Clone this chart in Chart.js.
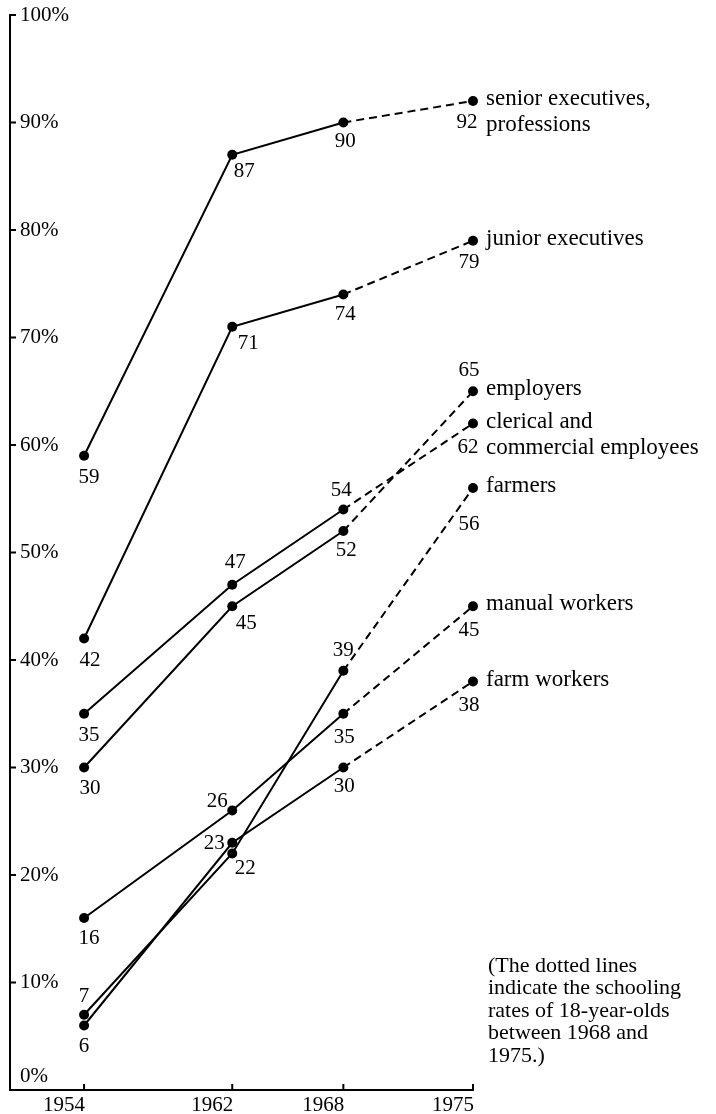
<!DOCTYPE html>
<html>
<head>
<meta charset="utf-8">
<script src="https://cdn.jsdelivr.net/npm/chart.js@4.4.0/dist/chart.umd.min.js"></script>
<style>
html, body { margin: 0; padding: 0; background: #fff; }
</style>
</head>
<body>
<canvas id="lienzo" width="716" height="1114"></canvas>
<script>
// valores
const years = [1954, 1962, 1968, 1975]
const yTicks = [0, 10, 20, 30, 40, 50, 60, 70, 80, 90, 100]
const seniorExec = [59, 87, 90, 92]
const juniorExec = [42, 71, 74, 79]
const employers = [30, 45, 52, 65]
const clerical = [35, 47, 54, 62]
const farmers = [7, 22, 39, 56]
const manualWorkers = [16, 26, 35, 45]
const farmWorkers = [6, 23, 30, 38]
const seriesNames = [
    ["senior executives,", "professions"],
    ["junior executives"],
    ["employers"],
    ["clerical and", "commercial employees"],
    ["farmers"],
    ["manual workers"],
    ["farm workers"]
]
const note = ["(The dotted lines", "indicate the schooling", "rates of 18-year-olds", "between 1968 and", "1975.)"]

// donde va cada numero respecto a su punto (dx, dy)
const labelOffsets = [
    [[5, 22], [12, 17], [2, 19], [-6, 21]],
    [[6, 22], [16, 17], [2, 20], [-4, 22]],
    [[6, 21], [14, 17], [3, 19], [-4, -21]],
    [[5, 22], [3, -22], [-2, -19], [-5, 24]],
    [[0, -18], [13, 15], [0, -20], [-4, 36]],
    [[5, 20], [-15, -9], [1, 24], [-4, 24]],
    [[0, 21], [-18, 1], [1, 19], [-4, 24]]
]

const serif = "'Liberation Serif', 'DejaVu Serif', serif"
const allSeries = [seniorExec, juniorExec, employers, clerical, farmers, manualWorkers, farmWorkers]

const datasets = allSeries.map((vals, i) => ({
    label: seriesNames[i].join(" "),
    data: years.map((yr, j) => ({ x: yr, y: vals[j] })),
    borderColor: "#000",
    borderWidth: 2,
    pointRadius: 5,
    pointHoverRadius: 5,
    pointBackgroundColor: "#000",
    pointBorderWidth: 0,
    tension: 0,
    clip: false,
    segment: {
        borderDash: c => c.p0.parsed.x >= 1968 ? [8, 5] : undefined
    }
}))

const decor = {
    id: "decor",
    afterDraw(chart) {
        const ctx = chart.ctx
        const xs = chart.scales.x
        const ys = chart.scales.y
        const area = chart.chartArea
        ctx.save()
        ctx.fillStyle = "#000"
        ctx.strokeStyle = "#000"
        ctx.lineWidth = 2

        // marcas de los ejes
        ctx.beginPath()
        for (let v of yTicks) {
            const py = ys.getPixelForValue(v)
            ctx.moveTo(area.left, py)
            ctx.lineTo(area.left + 6, py)
        }
        for (let yr of years) {
            const px = xs.getPixelForValue(yr)
            ctx.moveTo(px, area.bottom)
            ctx.lineTo(px, area.bottom - 6)
        }
        ctx.stroke()

        // etiquetas de los ejes
        ctx.font = "21px " + serif
        ctx.textAlign = "left"
        ctx.textBaseline = "middle"
        for (let v of yTicks) {
            let py = ys.getPixelForValue(v)
            if (v === 0) py -= 14
            ctx.fillText(v + "%", area.left + 10, py)
        }
        ctx.textAlign = "right"
        for (let yr of years) {
            ctx.fillText(String(yr), xs.getPixelForValue(yr) + 1, area.bottom + 15)
        }

        // numeros junto a los puntos
        ctx.font = "21px " + serif
        ctx.textAlign = "center"
        chart.data.datasets.forEach((ds, i) => {
            const meta = chart.getDatasetMeta(i)
            meta.data.forEach((pt, j) => {
                const off = labelOffsets[i][j]
                ctx.fillText(String(allSeries[i][j]), pt.x + off[0], pt.y + off[1])
            })
        })

        // nombres de las series
        ctx.font = "23px " + serif
        ctx.textAlign = "left"
        chart.data.datasets.forEach((ds, i) => {
            const meta = chart.getDatasetMeta(i)
            const last = meta.data[meta.data.length - 1]
            seriesNames[i].forEach((line, k) => {
                ctx.fillText(line, last.x + 13, last.y - 2 + k * 26)
            })
        })

        // nota
        ctx.font = "22px " + serif
        note.forEach((line, k) => {
            ctx.fillText(line, 488, 966 + k * 22.5)
        })
        ctx.restore()
    }
}

new Chart(document.getElementById("lienzo"), {
    type: "line",
    data: { datasets: datasets },
    plugins: [decor],
    options: {
        responsive: false,
        devicePixelRatio: 1,
        animation: false,
        events: [],
        layout: { padding: { left: 10, right: 243, top: 15, bottom: 24 } },
        plugins: {
            legend: { display: false },
            tooltip: { enabled: false }
        },
        scales: {
            x: {
                type: "linear",
                min: 1950,
                max: 1975,
                afterBuildTicks: s => { s.ticks = years.map(v => ({ value: v })) },
                grid: { display: false, drawTicks: false },
                border: { display: true, color: "#000", width: 2 },
                ticks: { display: false }
            },
            y: {
                type: "linear",
                min: 0,
                max: 100,
                afterBuildTicks: s => { s.ticks = yTicks.map(v => ({ value: v })) },
                grid: { display: false, drawTicks: false },
                border: { display: true, color: "#000", width: 2 },
                ticks: { display: false }
            }
        }
    }
})
</script>
</body>
</html>
